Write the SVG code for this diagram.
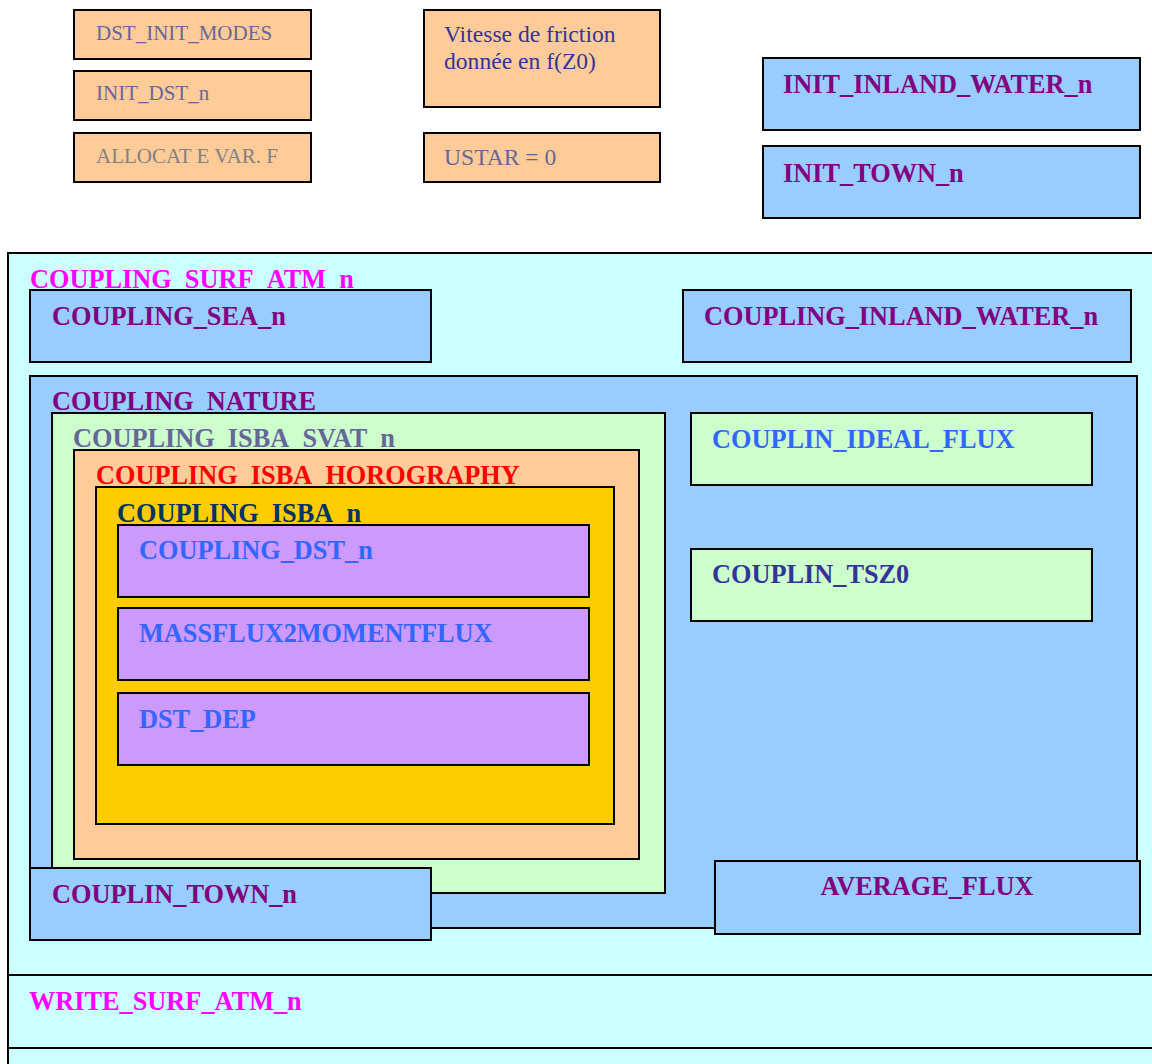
<svg xmlns="http://www.w3.org/2000/svg" width="1152" height="1064" viewBox="0 0 1152 1064">
<style>
rect{stroke:#000;stroke-width:2}
rect.bg{stroke:none;fill:#fff}
.b{fill:#99CCFF}.c{fill:#CCFFFF}.g{fill:#CCFFCC}.p{fill:#FFCC99}.y{fill:#FFCC00}.v{fill:#CC99FF}
text{font-family:"Liberation Serif","Times New Roman",serif}
.t{font-size:26.3px;font-weight:bold}
.r{font-size:21px}
.r2{font-size:23.6px}
.pu{fill:#800080}.mg{fill:#FF00FF}.gb{fill:#666699}.gr{fill:#808080}.db{fill:#333399}.rd{fill:#FF0000}.nv{fill:#003366}.lb{fill:#3366FF}
</style>
<rect class="bg" x="0" y="0" width="1152" height="1064"/>
<g id="connectors"/>
<g id="dst_init_modes"><rect class="p" x="74" y="10" width="237" height="49"/><text class="r gb" x="96" y="40">DST_INIT_MODES</text></g>
<g id="init_dst_n"><rect class="p" x="74" y="71" width="237" height="49"/><text class="r gb" x="96" y="100">INIT_DST_n</text></g>
<g id="allocate_var_f"><rect class="p" x="74" y="133" width="237" height="49"/><text class="r gr" x="96" y="163">ALLOCAT E VAR. F</text></g>
<g id="vitesse_friction"><rect class="p" x="424" y="10" width="236" height="97"/><text class="r2 db" x="444" y="42">Vitesse de friction</text><text class="r2 db" x="444" y="69">donnée en f(Z0)</text></g>
<g id="ustar"><rect class="p" x="424" y="133" width="236" height="49"/><text class="r2 gb" x="444" y="165">USTAR = 0</text></g>
<g id="init_inland_water_n"><rect class="b" x="763" y="58" width="377" height="72"/><text class="t pu" x="783" y="93">INIT_INLAND_WATER_n</text></g>
<g id="init_town_n"><rect class="b" x="763" y="146" width="377" height="72"/><text class="t pu" x="783" y="182">INIT_TOWN_n</text></g>
<g id="coupling_surf_atm_n"><rect class="c" x="8" y="253" width="1160" height="722"/><text class="t mg" x="30" y="288">COUPLING_SURF_ATM_n</text></g>
<g id="coupling_sea_n"><rect class="b" x="30" y="290" width="401" height="72"/><text class="t pu" x="52" y="325">COUPLING_SEA_n</text></g>
<g id="coupling_inland_water_n"><rect class="b" x="683" y="290" width="448" height="72"/><text class="t pu" x="704" y="325">COUPLING_INLAND_WATER_n</text></g>
<g id="coupling_nature"><rect class="b" x="30" y="376" width="1107" height="552"/><text class="t pu" x="52" y="410">COUPLING_NATURE</text></g>
<g id="coupling_isba_svat_n"><rect class="g" x="52" y="413" width="613" height="480"/><text class="t gb" x="73" y="447">COUPLING_ISBA_SVAT_n</text></g>
<g id="coupling_isba_horography"><rect class="p" x="74" y="450" width="565" height="409"/><text class="t rd" x="96" y="484">COUPLING_ISBA_HOROGRAPHY</text></g>
<g id="coupling_isba_n"><rect class="y" x="96" y="487" width="518" height="337"/><text class="t nv" x="117" y="522">COUPLING_ISBA_n</text></g>
<g id="coupling_dst_n"><rect class="v" x="118" y="525" width="471" height="72"/><text class="t lb" x="139" y="559">COUPLING_DST_n</text></g>
<g id="massflux2momentflux"><rect class="v" x="118" y="608" width="471" height="72"/><text class="t lb" x="139" y="642">MASSFLUX2MOMENTFLUX</text></g>
<g id="dst_dep"><rect class="v" x="118" y="693" width="471" height="72"/><text class="t lb" x="139" y="728">DST_DEP</text></g>
<g id="couplin_ideal_flux"><rect class="g" x="691" y="413" width="401" height="72"/><text class="t lb" x="712" y="448">COUPLIN_IDEAL_FLUX</text></g>
<g id="couplin_tsz0"><rect class="g" x="691" y="549" width="401" height="72"/><text class="t db" x="712" y="583">COUPLIN_TSZ0</text></g>
<g id="couplin_town_n"><rect class="b" x="30" y="868" width="401" height="72"/><text class="t pu" x="52" y="903">COUPLIN_TOWN_n</text></g>
<g id="average_flux"><rect class="b" x="715" y="861" width="425" height="73"/><text class="t pu" x="927" y="895" text-anchor="middle">AVERAGE_FLUX</text></g>
<g id="write_surf_atm_n"><rect class="c" x="8" y="975" width="1160" height="73"/><text class="t mg" x="29" y="1010">WRITE_SURF_ATM_n</text></g>
<g id="next_step"><rect class="c" x="8" y="1048" width="1160" height="40"/></g>
</svg>
